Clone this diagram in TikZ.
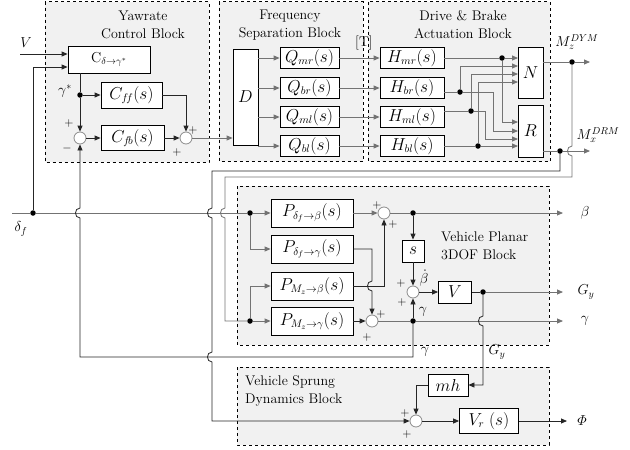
\documentclass[tikz,border=0pt]{standalone}
\usepackage{amsmath}
\usetikzlibrary{arrows.meta, positioning, calc}
\definecolor{panelgray}{RGB}{241,241,241}
\definecolor{wiregray}{RGB}{115,115,115}

\begin{document}
\begin{tikzpicture}[
    x=1pt, y=-1pt,
    font=\fontsize{14}{18}\selectfont,
    block/.style={draw, fill=white, line width=0.8pt, inner sep=1pt,
                  font=\fontsize{16}{18}\selectfont},
    adder/.style={circle, draw=black!45, fill=white, line width=0.8pt,
                  inner sep=0pt, minimum size=12pt},
    junc/.style={circle, fill=black, inner sep=0pt, minimum size=5.5pt},
    sgn/.style={font=\fontsize{12}{12}\selectfont, inner sep=0pt},
    panel/.style={draw, dashed, fill=panelgray, line width=0.6pt},
    wire/.style={line width=0.8pt, draw=black!85},
    gwire/.style={line width=0.8pt, draw=wiregray},
    arr/.style={-{Triangle[length=6pt, width=5pt]}},
    grp/.style={align=center, inner sep=0pt},
    lab/.style={inner sep=1pt}
]
\useasboundingbox (0,0) rectangle (630,450);
% panels
\draw[panel] (45,1.5) rectangle (209,162);
\draw[panel] (219,1.5) rectangle (363,161);
\draw[panel] (368,1.5) rectangle (550,161);
\draw[panel] (237,186) rectangle (549,345);
\draw[panel] (237,367) rectangle (549,445);
\node[grp] (tYaw) at (143,25) {Yawrate\\Control Block};
\node[grp] (tFrq) at (290,25) {Frequency\\Separation Block};
\node[grp] (tDrv) at (463,25) {Drive \& Brake\\Actuation Block};
\node[grp, align=left, anchor=west] (tPln) at (441,246) {Vehicle Planar\\3DOF Block};
\node[grp, align=left, anchor=west] (tSpr) at (245,391) {Vehicle Sprung\\Dynamics Block};

% yawrate control
\node[block, font=\fontsize{14}{16}\selectfont, minimum width=82pt, minimum height=27pt] (Cd) at (109,59.5) {$\mathrm{C}_{\delta\to\gamma^*}$};
\node[block, minimum width=61pt, minimum height=26pt] (Cff) at (131.5,95) {$C_{f\!f}(s)$};
\node[block, minimum width=63pt, minimum height=25pt] (Cfb) at (132.5,138) {$C_{f\!b}(s)$};
\node[adder] (S1) at (80,138) {};
\node[adder] (S2) at (186,138) {};
\node[junc] (jg) at (80,95) {};
\node[junc] (jd) at (33,213) {};
\coordinate (vin) at (20,54);
\coordinate (din) at (12,213);
\node[lab] (tV) at (26,43) {$V$};
\node[lab] (tgs) at (65,91) {$\gamma^*$};
\node[lab] (tdf) at (21,229) {$\delta_f$};

\draw[wire, arr] (vin) -- (Cd.west |- vin);
\draw[wire, arr] (jd) |- ($(Cd.west)+(0,7.5)$);
\draw[wire] (jg |- Cd.south) -- (jg);
\draw[wire, arr] (jg) -- (S1.north);
\draw[wire, arr] (jg) -- (Cff.west);
\draw[wire, arr] (S1.east) -- (Cfb.west);
\draw[wire, arr] (Cfb.east) -- (S2.west);
\draw[wire, arr] (Cff.east) -| (S2.north);

% frequency separation and actuation
\node[block, minimum width=25pt, minimum height=96pt] (D) at (245.5,97) {$D$};
\draw[gwire, arr] (S2.east) -- (D.west |- S2);
\foreach \q/\y in {mr/58, br/88, ml/117, bl/146}{
    \node[block, minimum width=59pt, minimum height=21pt] (Q\q) at (309.5,\y) {$Q_{\q}(s)$};
    \node[block, minimum width=64pt, minimum height=21pt] (H\q) at (412,\y) {$H_{\q}(s)$};
    \draw[gwire, arr] (D.east |- Q\q) -- (Q\q.west);
    \draw[gwire, arr] (Q\q.east) -- (H\q.west);
}
\node[lab] (tT) at (364,43) {[T]};

\node[block, minimum width=25pt, minimum height=51pt] (N) at (530.5,72.5) {$N$};
\node[block, minimum width=25pt, minimum height=52pt] (R) at (530.5,131) {$R$};
\foreach \y [count=\i] in {58,66,74,82} \coordinate (n\i) at (518,\y);
\foreach \y [count=\i] in {122,131,139,146} \coordinate (r\i) at (518,\y);
\node[junc] (j1) at (502,58) {};
\node[junc] (j2) at (460,92) {};
\node[junc] (j3) at (471,111) {};
\node[junc] (j4) at (478,146) {};
\draw[gwire, arr] (Hmr.east) -- (j1) -- (n1);
\draw[gwire, arr] (j1) |- (r1);
\draw[gwire] (Hbr.east |- j2) -- (j2);
\draw[gwire, arr] (j2) -- (493,92) |- (r2);
\draw[gwire, arr] (j2) |- (n2);
\draw[gwire] (Hml.east |- j3) -- (j3);
\draw[gwire, arr] (j3) -- (485,111) |- (r3);
\draw[gwire, arr] (j3) |- (n3);
\draw[gwire, arr] (Hbl.east) -- (j4) -- (r4);
\draw[gwire, arr] (j4) |- (n4);

% moments out of N and R
\node[junc] (jz) at (572,62) {};
\node[junc] (jx) at (560,151) {};
\coordinate (oz) at (590,62);
\coordinate (ox) at (590,151);
\draw[gwire] (N.east |- jz) -- (jz);
\draw[gwire, arr] (jz) -- (oz);
\draw[gwire] (R.east |- jx) -- (jx);
\draw[gwire, arr] (jx) -- (ox);
\node[lab] (tMz) at (577,42) {$M_z^{DYM}$};
\node[lab] (tMx) at (598,135) {$M_x^{DRM}$};

% planar 3DOF
\foreach \p/\t/\y in {Pdb/{\delta_f\to\beta}/213, Pdg/{\delta_f\to\gamma}/249,
                      Pmb/{M_z\to\beta}/286, Pmg/{M_z\to\gamma}/321}
    \node[block, minimum width=82pt, minimum height=28pt] (\p) at (312,\y) {$P_{\t}(s)$};
\node[junc] (jp) at (250,213) {};
\node[junc] (jm) at (250,321) {};
\node[adder] (Sb) at (384,213) {};
\node[adder] (Sg) at (372,321) {};
\node[block, minimum width=22pt, minimum height=22pt] (sb) at (413,251) {$s$};
\node[adder] (Sv) at (413,292) {};
\node[block, minimum width=33pt, minimum height=22pt] (Vb) at (455,292) {$V$};
\node[junc] (jb) at (413,213) {};
\node[junc] (jr) at (413,321) {};
\node[junc] (jv) at (483,292) {};
\coordinate (ob) at (563,213);
\coordinate (oG) at (563,292);
\coordinate (or) at (563,321);

\draw[gwire] (din) -- (jd) -- (jp);
\draw[gwire, arr] (jp) -- (Pdb.west);
\draw[gwire, arr] (jp) |- (Pdg.west);
\draw[gwire, arr] (jm) -- (Pmg.west);
\draw[gwire, arr] (jm) |- (Pmb.west);
\draw[gwire, arr] (Pdb.east) -- (Sb.west);
\draw[wire, arr] (Pdg.east) -- (372,249) -- (372,281)
    .. controls +(-6,0) and +(-6,0) .. (372,291) -- (Sg.north);
\draw[wire, arr] (Pmb.east) -| (Sb.south);
\draw[wire, arr] (Pmg.east) -- (Sg.west);
\draw[gwire] (Sb.east) -- (jb);
\draw[gwire, arr] (jb) -- (ob);
\draw[wire, arr] (jb) -- (sb.north);
\draw[wire, arr] (sb.south) -- (Sv.north);
\draw[wire, arr] (Sv.east) -- (Vb.west);
\draw[wire] (Vb.east) -- (jv);
\draw[gwire, arr] (jv) -- (oG);
\draw[gwire] (Sg.east) -- (jr);
\draw[gwire, arr] (jr) -- (or);
\draw[wire, arr] (jr) -- (Sv.south);

% sprung dynamics
\node[block, minimum width=40pt, minimum height=22pt] (mh) at (448,385) {$mh$};
\node[adder] (Ss) at (416,421) {};
\node[block, minimum width=59pt, minimum height=25pt] (Vr) at (489,421) {$V_r\ (s)$};
\coordinate (oP) at (567,421);
\draw[wire, arr] (jv) -- (483,316) .. controls +(-6,0) and +(-6,0) .. (483,326) |- (mh.east);
\draw[wire, arr] (mh.west) -| (Ss.north);
\draw[wire, arr] (Ss.east) -- (Vr.west);
\draw[wire, arr] (Vr.east) -- (oP);

% feedback lines with hops
\draw[wire, arr] (jr) -- (413,357) -- (80,357) -- (80,218)
    .. controls +(-6,0) and +(-6,0) .. (80,208) -- (S1.south);
\draw[wire, arr] (jx) -- (560,171) -- (212,171) -- (212,208)
    .. controls +(-6,0) and +(-6,0) .. (212,218) -- (212,352)
    .. controls +(-6,0) and +(-6,0) .. (212,362) |- (Ss.west);
\draw[gwire] (jz) -- (572,146) .. controls +(-6,0) and +(-6,0) .. (572,156)
    -- (572,177) -- (225,177) -- (225,208)
    .. controls +(-6,0) and +(-6,0) .. (225,218) |- (jm);

\node[lab] (tb) at (585,213) {$\beta$};
\node[lab] (tGy) at (586,292) {$G_y$};
\node[lab] (tgo) at (585,321) {$\gamma$};
\node[lab] (tPhi) at (582,421) {$\varPhi$};
\node[lab] (tbd) at (424,278) {$\dot\beta$};
\node[lab] (tg1) at (423,312) {$\gamma$};
\node[lab] (tg2) at (425,352) {$\gamma$};
\node[lab] (tG2) at (497,352) {$G_y$};
\foreach \x/\y/\s [count=\i] in {69/123/+, 67/148/-, 193/130/+, 177/152/+,
        377/205/+, 393/224/+, 401/283/+, 402/302/+, 381/314/+, 367/337/+,
        405/413/+, 407/434/+}
    \node[sgn] (sg\i) at (\x,\y) {$\s$};
\end{tikzpicture}
\end{document}
